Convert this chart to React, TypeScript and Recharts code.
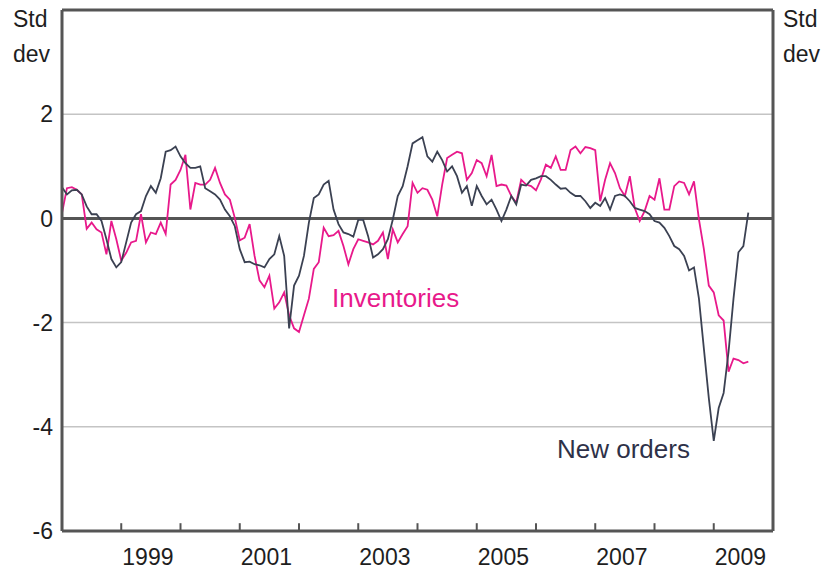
import React from "react";
import {
  LineChart,
  Line,
  XAxis,
  YAxis,
  ReferenceLine,
} from "recharts";

// monthly series, Jan 1998 onward
const startYear = 1998;

const newOrders = [
  0.6, 0.46, 0.54, 0.55, 0.46, 0.23, 0.08, 0.08, -0.05, -0.4,
  -0.78, -0.94, -0.84, -0.46, -0.08, 0.08, 0.14, 0.43, 0.62, 0.49,
  0.77, 1.28, 1.31, 1.38, 1.19, 1.06, 0.97, 0.97, 1.0, 0.58,
  0.52, 0.46, 0.36, 0.17, 0.04, -0.15, -0.59, -0.84, -0.83, -0.88,
  -0.9, -0.94, -0.78, -0.69, -0.34, -0.72, -2.11, -1.29, -1.1, -0.72,
  -0.08, 0.39, 0.46, 0.65, 0.72, 0.17, -0.11, -0.27, -0.3, -0.35,
  -0.03, -0.03, -0.34, -0.75, -0.69, -0.59, -0.4, -0.02, 0.43, 0.62,
  1.0, 1.44, 1.5, 1.56, 1.19, 1.09, 1.28, 1.12, 0.9, 1.0,
  0.81, 0.49, 0.62, 0.24, 0.62, 0.43, 0.27, 0.36, 0.17, -0.05,
  0.17, 0.43, 0.27, 0.65, 0.63, 0.74, 0.77, 0.81, 0.81, 0.74,
  0.65, 0.57, 0.58, 0.49, 0.43, 0.43, 0.33, 0.2, 0.3, 0.24,
  0.39, 0.17, 0.43, 0.46, 0.43, 0.33, 0.2, 0.17, 0.14, 0.08,
  -0.05, -0.08, -0.18, -0.34, -0.53, -0.59, -0.72, -1.0, -0.94, -1.54,
  -2.5, -3.45, -4.27, -3.64, -3.35, -2.56, -1.54, -0.65, -0.53, 0.11,
];

const inventories = [
  0.1, 0.58, 0.6, 0.55, 0.46, -0.2, -0.08, -0.21, -0.27, -0.69,
  -0.05, -0.4, -0.81, -0.66, -0.46, -0.43, 0.08, -0.46, -0.27, -0.3,
  -0.08, -0.3, 0.65, 0.74, 0.93, 1.22, 0.17, 0.68, 0.65, 0.65,
  0.74, 0.97, 0.68, 0.46, 0.36, 0.01, -0.42, -0.37, -0.11, -0.72,
  -1.19, -1.32, -1.1, -1.73, -1.61, -1.42, -1.86, -2.11, -2.18, -1.86,
  -1.54, -0.97, -0.84, -0.18, -0.34, -0.32, -0.24, -0.53, -0.88, -0.59,
  -0.4, -0.43, -0.46, -0.5, -0.43, -0.27, -0.78, -0.21, -0.46, -0.3,
  -0.15, 0.68, 0.49, 0.58, 0.55, 0.36, 0.04, 0.65, 1.16, 1.22,
  1.28, 1.25, 0.74, 0.87, 1.12, 1.06, 0.81, 1.22, 0.62, 0.65,
  0.63, 0.43, 0.3, 0.74, 0.65, 0.62, 0.54, 0.75, 1.03, 0.97,
  1.19, 0.93, 0.93, 1.31, 1.38, 1.25, 1.37, 1.35, 1.31, 0.33,
  0.74, 1.06, 0.87, 0.58, 0.43, 0.81, 0.2, -0.05, 0.14, 0.43,
  0.36, 0.77, 0.17, 0.17, 0.62, 0.71, 0.68, 0.46, 0.71, -0.02,
  -0.59, -1.29, -1.42, -1.86, -1.96, -2.94, -2.69, -2.72, -2.78, -2.75,
];

const yTicks = [-6, -4, -2, 0, 2];
const gridValues = [2, -2, -4];
const yearLabels = [1999, 2001, 2003, 2005, 2007, 2009];
const yearMarks = [1999, 2000, 2001, 2002, 2003, 2004, 2005, 2006, 2007, 2008, 2009];

const data = newOrders.map((v, i) => ({
  t: startYear + i / 12,
  orders: v,
  inv: inventories[i],
}));

const FONT = "'Liberation Sans', Arial, sans-serif";
const AXIS = "#555555";
const PINK = "#e8198b";
const NAVY = "#3b4152";
const tickStyle = { fontSize: 23, fill: "#1e1e1e", fontFamily: FONT };

const unitStyle: React.CSSProperties = {
  position: "absolute",
  top: 2,
  fontFamily: FONT,
  fontSize: 23,
  lineHeight: "35px",
  color: "#1e1e1e",
};

export default function App() {
  return (
    <div style={{ position: "absolute", left: 0, top: 0, width: 829, height: 573, background: "#fff" }}>
      <LineChart
        width={829}
        height={573}
        data={data}
        margin={{ top: 10, right: 6, left: 12, bottom: 12 }}
      >
        <XAxis
          dataKey="t"
          type="number"
          domain={[1998, 2010]}
          ticks={yearLabels.map((y) => y + 0.45)}
          tickFormatter={(v) => String(Math.floor(v))}
          tick={tickStyle}
          tickLine={false}
          tickSize={6}
          tickMargin={12}
          height={30}
          axisLine={{ stroke: AXIS, strokeWidth: 3 }}
          interval={0}
        />
        <YAxis
          yAxisId="left"
          domain={[-6, 4]}
          ticks={yTicks}
          tick={tickStyle}
          tickLine={false}
          tickSize={6}
          tickMargin={3}
          width={50}
          axisLine={{ stroke: AXIS, strokeWidth: 3 }}
          interval={0}
        />
        <YAxis
          yAxisId="right"
          orientation="right"
          domain={[-6, 4]}
          ticks={yTicks}
          tick={{ ...tickStyle, textAnchor: "start" }}
          tickLine={false}
          tickSize={6}
          tickMargin={4}
          width={50}
          axisLine={{ stroke: AXIS, strokeWidth: 3 }}
          interval={0}
        />
        {gridValues.map((g) => (
          <ReferenceLine key={g} yAxisId="left" y={g} stroke="#c4c4c4" strokeWidth={1.5} />
        ))}
        <ReferenceLine yAxisId="left" y={4} stroke={AXIS} strokeWidth={3} />
        {yearMarks.map((yr) => (
          <ReferenceLine
            key={yr}
            yAxisId="left"
            segment={[{ x: yr, y: -6 }, { x: yr, y: -5.85 }]}
            stroke={AXIS}
            strokeWidth={2}
          />
        ))}
        <ReferenceLine yAxisId="left" y={0} stroke={AXIS} strokeWidth={3} />
        <Line
          yAxisId="left"
          dataKey="inv"
          stroke={PINK}
          strokeWidth={1.8}
          dot={false}
          isAnimationActive={false}
        />
        <Line
          yAxisId="left"
          dataKey="orders"
          stroke={NAVY}
          strokeWidth={1.8}
          dot={false}
          isAnimationActive={false}
        />
      </LineChart>
      <div style={{ ...unitStyle, left: 13 }}>Std<br />dev</div>
      <div style={{ ...unitStyle, left: 783 }}>Std<br />dev</div>
      <div style={{ position: "absolute", left: 332, top: 285, fontFamily: FONT, fontSize: 26, lineHeight: "26px", color: PINK }}>
        Inventories
      </div>
      <div style={{ position: "absolute", left: 557, top: 436, fontFamily: FONT, fontSize: 26, lineHeight: "26px", color: "#2e3148" }}>
        New orders
      </div>
    </div>
  );
}
